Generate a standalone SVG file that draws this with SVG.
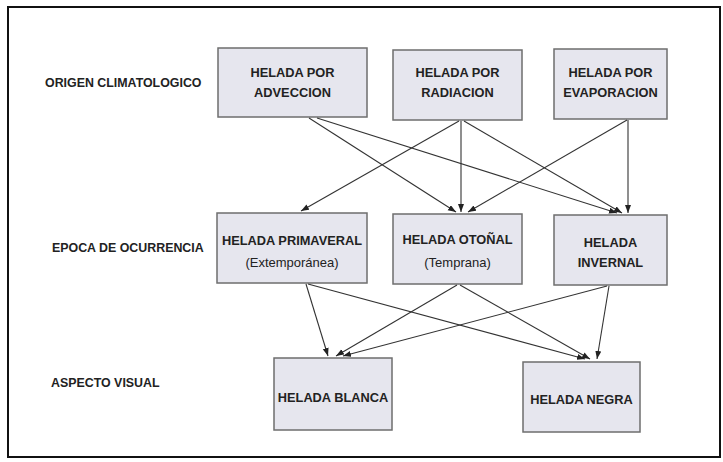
<svg xmlns="http://www.w3.org/2000/svg" width="723" height="462" viewBox="0 0 723 462">
<defs>
<marker id="arr" markerUnits="userSpaceOnUse" markerWidth="9" markerHeight="7" refX="8" refY="3" orient="auto">
<path d="M0,0 L8,3 L0,6 z" fill="#222"/>
</marker>
<style>
.box{fill:#e6e6ee;stroke:#6e6e6e;stroke-width:1.5}
.t{font-family:"Liberation Sans",Arial,sans-serif;font-size:12.8px;font-weight:bold;fill:#222;text-anchor:middle}
.n{font-weight:normal;font-size:13px}
.lbl{font-family:"Liberation Sans",Arial,sans-serif;font-size:12.4px;font-weight:bold;fill:#222}
.c line{stroke:#333;stroke-width:1.1;marker-end:url(#arr)}
</style>
</defs>
<rect x="0" y="0" width="723" height="462" fill="#fff"/>
<rect x="8" y="7" width="712" height="450" fill="none" stroke="#111" stroke-width="2"/>
<g id="labels">
<text class="lbl" x="45" y="87">ORIGEN CLIMATOLOGICO</text>
<text class="lbl" x="52" y="252">EPOCA DE OCURRENCIA</text>
<text class="lbl" x="51" y="387">ASPECTO VISUAL</text>
</g>
<g id="adveccion"><rect class="box" x="218" y="48" width="149" height="69"/><text class="t" x="292.5" y="77">HELADA POR</text><text class="t" x="292.5" y="97">ADVECCION</text></g>
<g id="radiacion"><rect class="box" x="393" y="50" width="129" height="70"/><text class="t" x="457.5" y="77">HELADA POR</text><text class="t" x="457.5" y="97">RADIACION</text></g>
<g id="evaporacion"><rect class="box" x="554" y="49" width="113" height="70"/><text class="t" x="610.5" y="77">HELADA POR</text><text class="t" x="610.5" y="97">EVAPORACION</text></g>
<g id="primaveral"><rect class="box" x="217" y="213" width="150" height="70"/><text class="t" x="292" y="245">HELADA PRIMAVERAL</text><text class="t n" x="292" y="267">(Extemporánea)</text></g>
<g id="otonal"><rect class="box" x="393" y="214" width="129" height="70"/><text class="t" x="457.5" y="244">HELADA OTOÑAL</text><text class="t n" x="457.5" y="267">(Temprana)</text></g>
<g id="invernal"><rect class="box" x="554" y="215" width="113" height="70"/><text class="t" x="610.5" y="247">HELADA</text><text class="t" x="610.5" y="267">INVERNAL</text></g>
<g id="blanca"><rect class="box" x="274" y="358" width="118" height="72"/><text class="t" x="333" y="402">HELADA BLANCA</text></g>
<g id="negra"><rect class="box" x="523" y="362" width="117" height="70"/><text class="t" x="581.5" y="404">HELADA NEGRA</text></g>
<g id="connectors" class="c">
<line x1="309" y1="118" x2="456" y2="212"/>
<line x1="317" y1="118" x2="617" y2="213"/>
<line x1="459" y1="121" x2="301" y2="211"/>
<line x1="461" y1="121" x2="461" y2="212"/>
<line x1="464" y1="121" x2="622" y2="213"/>
<line x1="627" y1="120" x2="468" y2="212"/>
<line x1="628" y1="120" x2="628" y2="213"/>
<line x1="306" y1="284" x2="328" y2="356"/>
<line x1="308" y1="284" x2="585" y2="359"/>
<line x1="457" y1="285" x2="336" y2="356"/>
<line x1="460" y1="285" x2="590" y2="359"/>
<line x1="607" y1="286" x2="343" y2="356"/>
<line x1="609" y1="286" x2="597" y2="359"/>
</g>
</svg>
